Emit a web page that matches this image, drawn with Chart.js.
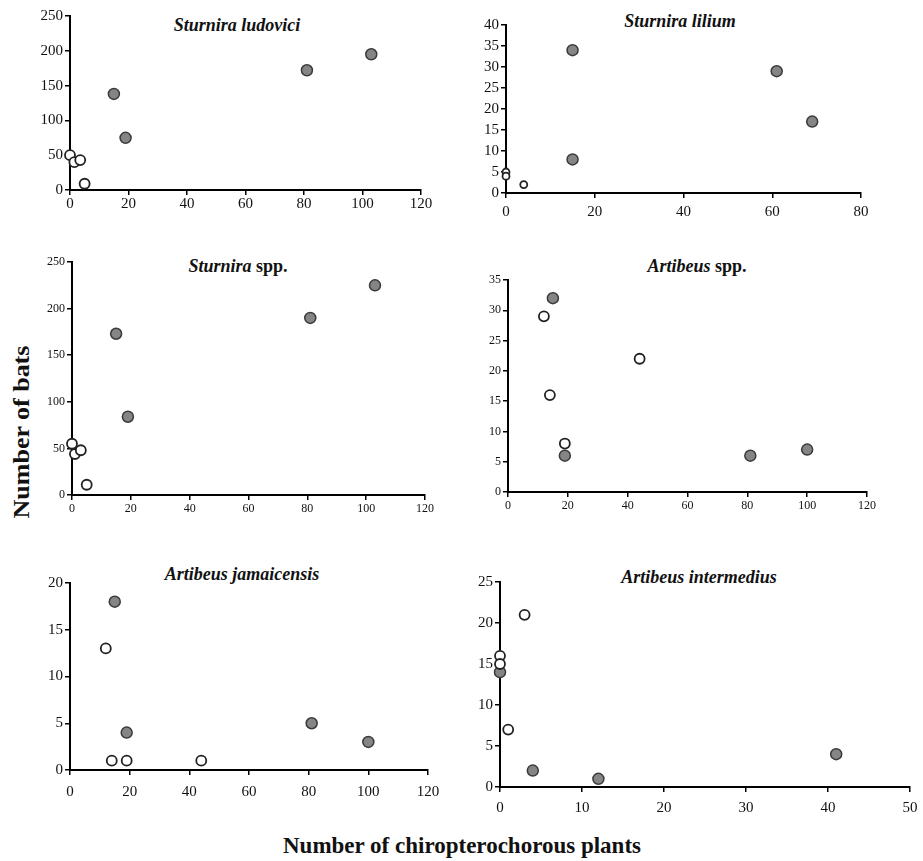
<!DOCTYPE html>
<html>
<head>
<meta charset="utf-8">
<script src="https://cdn.jsdelivr.net/npm/chart.js"></script>
<style>
body { margin:0; background:#fff; width:923px; height:861px; position:relative; overflow:hidden; font-family:'Liberation Serif', serif; }
.box { position:absolute; }
.ttl { position:absolute; transform:translate(-50%,-50%); white-space:nowrap; font-weight:bold; font-size:18px; color:#111; }
.ttl i { font-style:italic; }
.lab { position:absolute; white-space:nowrap; font-weight:bold; font-size:23px; color:#111; }
</style>
</head>
<body>
<div class="ttl" style="left:237px; top:25px"><i>Sturnira ludovici</i></div>
<div class="ttl" style="left:680px; top:21px"><i>Sturnira lilium</i></div>
<div class="ttl" style="left:238px; top:266px"><i>Sturnira</i> spp.</div>
<div class="ttl" style="left:697px; top:266px"><i>Artibeus</i> spp.</div>
<div class="ttl" style="left:242px; top:574px"><i>Artibeus jamaicensis</i></div>
<div class="ttl" style="left:699px; top:577px"><i>Artibeus intermedius</i></div>
<div class="lab" style="left:22px; top:432px; transform:translate(-50%,-50%) rotate(-90deg) scaleX(1.13)">Number of bats</div>
<div class="lab" style="left:462px; top:846px; transform:translate(-50%,-50%)">Number of chiropterochorous plants</div>

<div class="box" id="b1"><canvas id="c1"></canvas></div>
<div class="box" id="b2"><canvas id="c2"></canvas></div>
<div class="box" id="b3"><canvas id="c3"></canvas></div>
<div class="box" id="b4"><canvas id="c4"></canvas></div>
<div class="box" id="b5"><canvas id="c5"></canvas></div>
<div class="box" id="b6"><canvas id="c6"></canvas></div>

<script>
// Sturnira ludovici
var ludoviciWhiteX = [0, 1.5, 3.5, 5];
var ludoviciWhiteY = [50, 40, 43, 9];
var ludoviciGrayX = [15, 19, 81, 103];
var ludoviciGrayY = [138, 75, 172, 195];

// Sturnira lilium
var liliumWhiteX = [0, 0, 4];
var liliumWhiteY = [5, 4, 2];
var liliumGrayX = [15, 15, 61, 69];
var liliumGrayY = [34, 8, 29, 17];

// Sturnira spp.
var sturniraWhiteX = [0, 1, 3, 5];
var sturniraWhiteY = [55, 44, 48, 11];
var sturniraGrayX = [15, 19, 81, 103];
var sturniraGrayY = [173, 84, 190, 225];

// Artibeus spp.
var artibeusWhiteX = [12, 14, 19, 44];
var artibeusWhiteY = [29, 16, 8, 22];
var artibeusGrayX = [15, 19, 81, 100];
var artibeusGrayY = [32, 6, 6, 7];

// Artibeus jamaicensis
var jamaicensisWhiteX = [12, 14, 19, 44];
var jamaicensisWhiteY = [13, 1, 1, 1];
var jamaicensisGrayX = [15, 19, 81, 100];
var jamaicensisGrayY = [18, 4, 5, 3];

// Artibeus intermedius
var intermediusWhiteX = [0, 0, 1, 3];
var intermediusWhiteY = [16, 15, 7, 21];
var intermediusGrayX = [0, 4, 12, 41];
var intermediusGrayY = [14, 2, 1, 4];

var AX_W = 45, AX_H = 36, PAD_T = 12, PAD_R = 22;

function pts(xs, ys) { return xs.map((x, i) => ({x: x, y: ys[i]})); }

function panel(n, wx, wy, gx, gy, o) {
	var box = document.getElementById('b' + n);
	box.style.left = (o.x0 - AX_W) + 'px';
	box.style.top = (o.yTop - PAD_T) + 'px';
	box.style.width = (AX_W + o.x1 - o.x0 + PAD_R) + 'px';
	box.style.height = (PAD_T + o.yBot - o.yTop + AX_H) + 'px';
	var font = { family: "'Liberation Serif', serif", size: o.fs };
	var axis = (max, step, pad) => ({
		type: 'linear', min: 0, max: max,
		ticks: { stepSize: step, font: font, color: '#111', padding: pad },
		grid: { display: true, drawOnChartArea: false, drawTicks: true, tickLength: 5, color: '#000', lineWidth: 1.5 },
		border: { display: true, color: '#000', width: 2 },
	});
	var xs = axis(o.xmax, o.xstep, o.xpad);
	xs.afterFit = s => { s.height = AX_H; };
	var ys = axis(o.ymax, o.ystep, 2);
	ys.afterFit = s => { s.width = AX_W; };
	new Chart(document.getElementById('c' + n), {
		type: 'scatter',
		data: {
			datasets: [
				{
					data: pts(wx, wy),
					backgroundColor: '#fff',
					borderColor: '#222',
					borderWidth: 1.8,
					pointRadius: o.wr || 5,
					clip: false,
				},
				{
					data: pts(gx, gy),
					backgroundColor: '#858585',
					borderColor: '#3a3a3a',
					borderWidth: 1.5,
					pointRadius: 5.5,
					clip: false,
				},
			]
		},
		options: {
			responsive: true,
			maintainAspectRatio: false,
			animation: false,
			layout: { padding: { top: PAD_T, right: PAD_R, left: 0, bottom: 0 } },
			scales: { x: xs, y: ys },
			plugins: { legend: { display: false }, tooltip: { enabled: false } }
		}
	});
}

panel(1, ludoviciWhiteX, ludoviciWhiteY, ludoviciGrayX, ludoviciGrayY,
	{ x0: 70, x1: 421, yTop: 16, yBot: 190, xmax: 120, xstep: 20, ymax: 250, ystep: 50, fs: 15, xpad: 0 });
panel(2, liliumWhiteX, liliumWhiteY, liliumGrayX, liliumGrayY,
	{ x0: 506, x1: 861, yTop: 25, yBot: 193, xmax: 80, xstep: 20, ymax: 40, ystep: 5, fs: 15, xpad: 5, wr: 3.5 });
panel(3, sturniraWhiteX, sturniraWhiteY, sturniraGrayX, sturniraGrayY,
	{ x0: 72, x1: 425, yTop: 262, yBot: 495, xmax: 120, xstep: 20, ymax: 250, ystep: 50, fs: 12, xpad: 2 });
panel(4, artibeusWhiteX, artibeusWhiteY, artibeusGrayX, artibeusGrayY,
	{ x0: 508, x1: 867, yTop: 280, yBot: 492, xmax: 120, xstep: 20, ymax: 35, ystep: 5, fs: 12, xpad: 2 });
panel(5, jamaicensisWhiteX, jamaicensisWhiteY, jamaicensisGrayX, jamaicensisGrayY,
	{ x0: 70, x1: 428, yTop: 583, yBot: 770, xmax: 120, xstep: 20, ymax: 20, ystep: 5, fs: 15, xpad: 8 });
panel(6, intermediusWhiteX, intermediusWhiteY, intermediusGrayX, intermediusGrayY,
	{ x0: 500, x1: 910, yTop: 582, yBot: 787, xmax: 50, xstep: 10, ymax: 25, ystep: 5, fs: 15, xpad: 7 });
</script>
</body>
</html>
